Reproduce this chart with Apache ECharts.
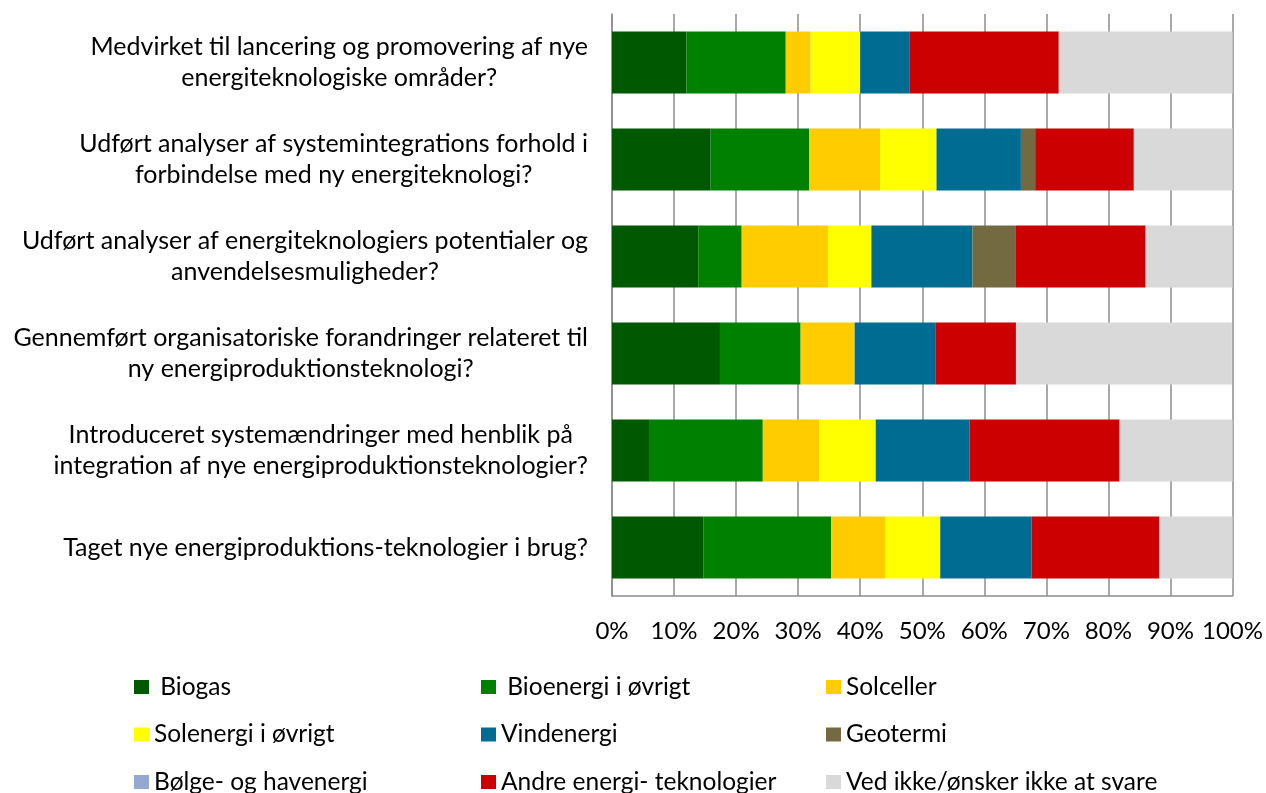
<!DOCTYPE html>
<html>
<head>
<meta charset="utf-8">
<script src="https://cdn.jsdelivr.net/npm/echarts@6/dist/echarts.min.js"></script>
<style>
html,body{margin:0;padding:0;background:#fff;}
#chart{width:1266px;height:793px;}
</style>
</head>
<body>
<div id="chart"></div>
<script>
var categories = [
  "Medvirket til lancering og promovering af nye\nenergiteknologiske områder?",
  "Udført analyser af systemintegrations forhold i\nforbindelse med ny energiteknologi?",
  "Udført analyser af energiteknologiers potentialer og\nanvendelsesmuligheder?",
  "Gennemført organisatoriske forandringer relateret til\nny energiproduktionsteknologi?",
  "Introduceret systemændringer med henblik på\nintegration af nye energiproduktionsteknologier?",
  "Taget nye energiproduktions-teknologier i brug?"
];
var biogas    = [12.0, 15.9, 13.9, 17.4, 6.1, 14.7];
var bioenergi = [16.0, 15.9, 7.0, 13.0, 18.2, 20.6];
var solceller = [4.0, 11.4, 13.9, 8.7, 9.1, 8.8];
var solenergi = [8.0, 9.1, 7.0, 0, 9.1, 8.8];
var vind      = [8.0, 13.6, 16.3, 13.0, 15.1, 14.7];
var geotermi  = [0, 2.3, 7.0, 0, 0, 0];
var boelge    = [0, 0, 0, 0, 0, 0];
var andre     = [24.0, 15.9, 20.9, 13.0, 24.2, 20.6];
var vedIkke   = [28.0, 15.9, 14.0, 34.8, 18.2, 11.8];
var xTicks = ["0%","10%","20%","30%","40%","50%","60%","70%","80%","90%","100%"];

var seriesDefs = [
  {name: " Biogas", data: biogas, color: "#005800"},
  {name: " Bioenergi i øvrigt", data: bioenergi, color: "#008000"},
  {name: "Solceller", data: solceller, color: "#FFCC00"},
  {name: "Solenergi i øvrigt", data: solenergi, color: "#FFFF00"},
  {name: "Vindenergi", data: vind, color: "#006C91"},
  {name: "Geotermi", data: geotermi, color: "#736A41"},
  {name: "Bølge- og havenergi", data: boelge, color: "#95A9D0"},
  {name: "Andre energi- teknologier", data: andre, color: "#CC0000"},
  {name: "Ved ikke/ønsker ikke at svare", data: vedIkke, color: "#D9D9D9"}
];

var FONT = "Lato";
var legendBase = {
  orient: "vertical",
  top: 673,
  height: 300,
  padding: 0,
  itemWidth: 15,
  itemHeight: 14,
  itemGap: 19.5,
  icon: "rect",
  textStyle: {fontFamily: FONT, fontSize: 24.5, color: "#000", lineHeight: 28}
};
function leg(left, names) {
  var o = JSON.parse(JSON.stringify(legendBase));
  o.left = left; o.data = names;
  return o;
}

var chart = echarts.init(document.getElementById("chart"), null, {renderer: "canvas"});
chart.setOption({
  animation: false,
  backgroundColor: "#fff",
  grid: {left: 612, right: 31, top: 14, height: 582, containLabel: false},
  xAxis: {
    type: "value", min: 0, max: 100, interval: 10,
    axisLine: {show: true, lineStyle: {color: "#8c8c8c", width: 1.5}},
    axisTick: {show: false},
    splitLine: {show: true, lineStyle: {color: "#8c8c8c", width: 1.5}},
    axisLabel: {
      margin: 23, color: "#000", fontFamily: FONT, fontSize: 24,
      formatter: function (v) { return xTicks[Math.round(v / 10)]; }
    }
  },
  yAxis: {
    type: "category", data: categories, inverse: true,
    axisLine: {show: true, lineStyle: {color: "#8c8c8c", width: 1.5}},
    axisTick: {show: false},
    axisLabel: {
      margin: 24, color: "#000", fontFamily: FONT, fontSize: 25, lineHeight: 31, align: "right",
      formatter: function (v) {
        return v.split("\n").map(function (l) { return "{c|" + l + "}"; }).join("\n");
      },
      rich: {c: {align: "center", fontFamily: FONT, fontSize: 25, lineHeight: 31, color: "#000"}}
    }
  },
  legend: [
    leg(134, [" Biogas", "Solenergi i øvrigt", "Bølge- og havenergi"]),
    leg(481, [" Bioenergi i øvrigt", "Vindenergi", "Andre energi- teknologier"]),
    leg(826, ["Solceller", "Geotermi", "Ved ikke/ønsker ikke at svare"])
  ],
  series: seriesDefs.map(function (s) {
    return {
      name: s.name, type: "bar", stack: "total", data: s.data,
      barWidth: "64%",
      itemStyle: {color: s.color},
      emphasis: {disabled: true}
    };
  })
});
</script>
</body>
</html>
